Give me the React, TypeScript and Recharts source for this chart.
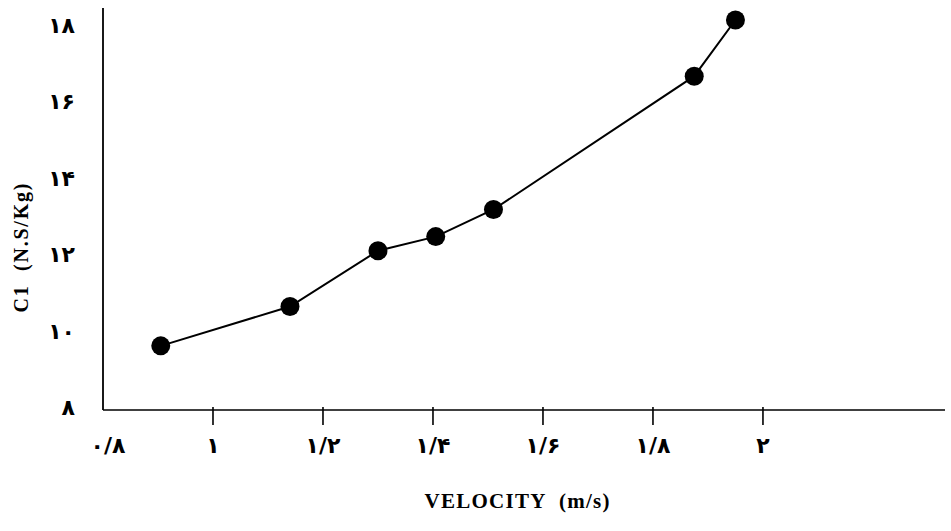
import React from "react";
import { LineChart, Line, XAxis, YAxis } from "recharts";

const velocity = [0.905, 1.14, 1.3, 1.405, 1.51, 1.875, 1.95];
const c1 = [9.6, 10.63, 12.09, 12.46, 13.17, 16.66, 18.13];

const xTicks = [0.8, 1, 1.2, 1.4, 1.6, 1.8, 2];
const xTickLabels = ["۰/۸", "۱", "۱/۲", "۱/۴", "۱/۶", "۱/۸", "۲"];
const yTicks = [8, 10, 12, 14, 16, 18];
const yTickLabels = ["۸", "۱۰", "۱۲", "۱۴", "۱۶", "۱۸"];

const data = velocity.map((v, i) => ({ v, c: c1[i] }));

const digitFont = "'DejaVu Sans', sans-serif";
const titleFont = "'Liberation Serif', 'Times New Roman', serif";

const XTick = (props: any) => {
  const { x, y, payload } = props;
  const idx = xTicks.indexOf(payload.value);
  const label = idx >= 0 ? xTickLabels[idx] : String(payload.value);
  return (
    <g>
      {idx > 0 && (
        <line x1={x} x2={x} y1={y - 3} y2={y + 15} stroke="#000" strokeWidth={1.6} />
      )}
      <text
        x={idx === 0 ? x + 5 : x}
        y={y + 43}
        textAnchor="middle"
        fontFamily={digitFont}
        fontWeight="bold"
        fontSize={22}
        fill="#000"
      >
        {label}
      </text>
    </g>
  );
};

const YTick = (props: any) => {
  const { x, y, payload } = props;
  const idx = yTicks.indexOf(payload.value);
  const label = idx >= 0 ? yTickLabels[idx] : String(payload.value);
  return (
    <text
      x={x}
      y={y}
      dy="0.36em"
      textAnchor="end"
      fontFamily={digitFont}
      fontWeight="bold"
      fontSize={22}
      fill="#000"
    >
      {label}
    </text>
  );
};

const XLabel = (props: any) => {
  const vb = props.viewBox || { x: 0, y: 0, width: 0, height: 0 };
  return (
    <text
      x={vb.x + vb.width / 2 - 7}
      y={vb.y + 98}
      textAnchor="middle"
      fontFamily={titleFont}
      fontWeight="bold"
      fontSize={21}
      textLength={185}
      lengthAdjust="spacing"
      style={{ whiteSpace: "pre" }}
      fill="#000"
    >
      {"VELOCITY  (m/s)"}
    </text>
  );
};

const YLabel = (props: any) => {
  const vb = props.viewBox || { x: 0, y: 0, width: 0, height: 0 };
  const cx = 28;
  const cy = vb.y + vb.height / 2 + 39;
  return (
    <text
      x={cx}
      y={cy}
      transform={`rotate(-90, ${cx}, ${cy})`}
      textAnchor="middle"
      fontFamily={titleFont}
      fontWeight="bold"
      fontSize={20}
      textLength={129}
      lengthAdjust="spacing"
      style={{ whiteSpace: "pre" }}
      fill="#000"
    >
      {"C1  (N.S/Kg)"}
    </text>
  );
};

export default function App() {
  return (
    <div style={{ position: "absolute", left: 0, top: 0, width: 951, height: 531, background: "#fff" }}>
      <LineChart
        width={951}
        height={531}
        data={data}
        margin={{ top: 8, right: 6, bottom: 0, left: 0 }}
      >
        <XAxis
          dataKey="v"
          type="number"
          domain={[0.8, 2.331]}
          ticks={xTicks}
          allowDataOverflow
          height={121}
          tickSize={0}
          tickMargin={0}
          tickLine={false}
          axisLine={{ stroke: "#000", strokeWidth: 1.6 }}
          tick={<XTick />}
          interval={0}
          label={<XLabel />}
        />
        <YAxis
          dataKey="c"
          type="number"
          domain={[7.921, 18.445]}
          ticks={yTicks}
          allowDataOverflow
          width={103}
          tickSize={0}
          tickMargin={28}
          tickLine={false}
          axisLine={{ stroke: "#000", strokeWidth: 1.8 }}
          tick={<YTick />}
          interval={0}
          label={<YLabel />}
        />
        <Line
          type="linear"
          dataKey="c"
          stroke="#000"
          strokeWidth={2}
          dot={{ r: 9.5, fill: "#000", stroke: "none" }}
          activeDot={false}
          isAnimationActive={false}
        />
      </LineChart>
    </div>
  );
}
